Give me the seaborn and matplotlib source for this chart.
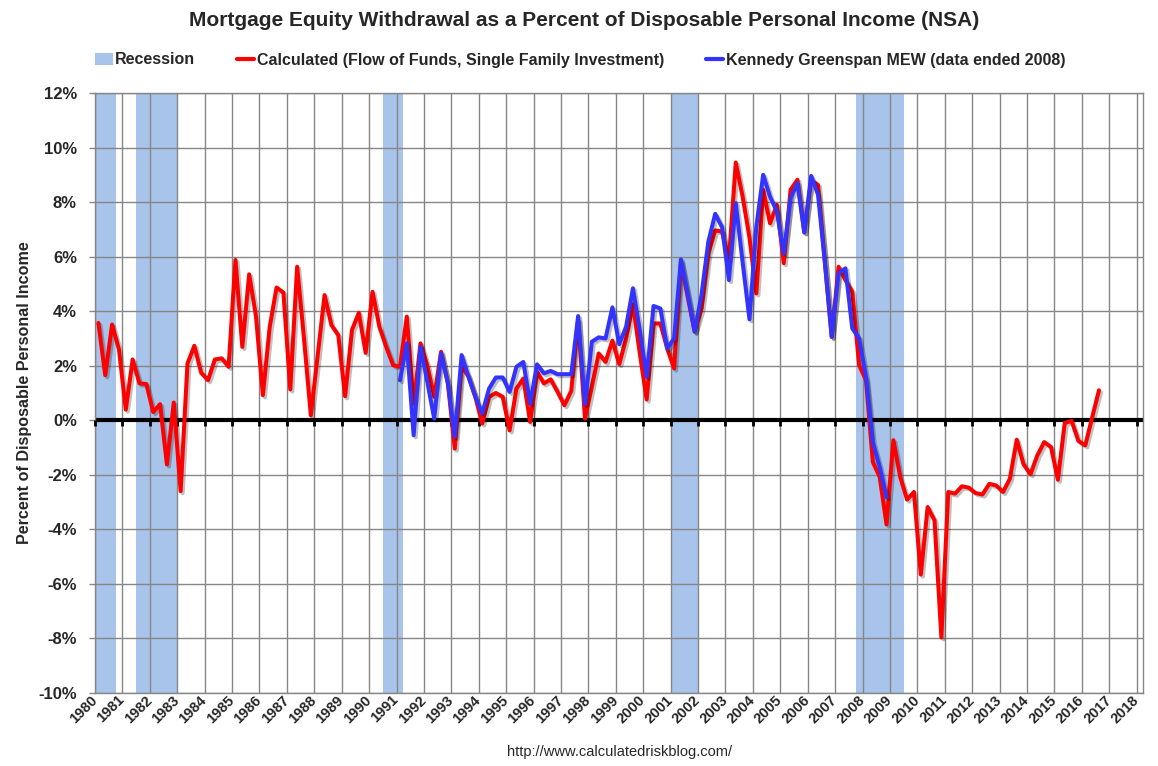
import numpy as np
import pandas as pd
import matplotlib
matplotlib.use("Agg")
import matplotlib.pyplot as plt
import matplotlib.patheffects as pe
import matplotlib.transforms as mtransforms
from matplotlib.patches import Patch
from matplotlib.lines import Line2D
import seaborn as sns

# Calculated MEW (Flow of Funds), quarterly from 1980 Q1, percent of DPI
calc_mew = [
    3.57, 1.65, 3.51, 2.60,    # 1980
    0.39, 2.23, 1.35, 1.33,    # 1981
    0.30, 0.59, -1.62, 0.65,   # 1982
    -2.60, 2.08, 2.73, 1.74,   # 1983
    1.47, 2.23, 2.27, 1.96,    # 1984
    5.88, 2.69, 5.35, 3.80,    # 1985
    0.92, 3.43, 4.87, 4.68,    # 1986
    1.13, 5.63, 3.00, 0.18,    # 1987
    2.40, 4.59, 3.49, 3.12,    # 1988
    0.88, 3.31, 3.94, 2.47,    # 1989
    4.71, 3.43, 2.69, 2.02,    # 1990
    1.96, 3.80, 0.60, 2.82,    # 1991
    2.00, 0.86, 2.51, 1.35,    # 1992
    -1.04, 2.00, 1.60, 0.86,   # 1993
    -0.12, 0.86, 1.00, 0.86,   # 1994
    -0.37, 1.16, 1.53, -0.06,  # 1995
    1.78, 1.35, 1.50, 1.04,    # 1996
    0.55, 1.08, 3.68, 0.06,    # 1997
    1.23, 2.45, 2.14, 2.92,    # 1998
    2.06, 3.00, 4.26, 2.45,    # 1999
    0.76, 3.55, 3.55, 2.63,    # 2000
    1.90, 5.82, 4.50, 3.25,    # 2001
    4.10, 6.12, 6.96, 6.92,    # 2002
    5.88, 9.45, 8.20, 6.70,    # 2003
    4.65, 8.45, 7.22, 7.90,    # 2004
    5.76, 8.45, 8.82, 6.90,    # 2005
    8.80, 8.63, 5.80, 3.06,    # 2006
    5.63, 5.14, 4.71, 2.02,    # 2007
    1.47, -1.53, -2.08, -3.82, # 2008
    -0.73, -2.08, -2.91, -2.63, # 2009
    -5.66, -3.18, -3.67, -7.96, # 2010
    -2.63, -2.69, -2.42, -2.47, # 2011
    -2.67, -2.72, -2.33, -2.39, # 2012
    -2.63, -2.14, -0.71, -1.62, # 2013
    -1.98, -1.29, -0.80, -0.98, # 2014
    -2.18, -0.10, -0.02, -0.76, # 2015
    -0.92, 0.10, 1.10,          # 2016
]
calc_start = 1980

# Kennedy Greenspan MEW, quarterly from 1991 Q1 to 2008 Q4
kg_mew = [
    1.47, 2.82, -0.55, 2.70,   # 1991
    1.40, 0.06, 2.45, 1.35,    # 1992
    -0.60, 2.39, 1.60, 0.86,   # 1993
    0.25, 1.16, 1.57, 1.57,    # 1994
    1.04, 1.96, 2.14, 0.61,    # 1995
    2.05, 1.72, 1.81, 1.69,    # 1996
    1.69, 1.69, 3.82, 0.59,    # 1997
    2.88, 3.04, 3.00, 4.14,    # 1998
    2.79, 3.43, 4.84, 3.30,    # 1999
    1.59, 4.19, 4.10, 2.63,    # 2000
    3.00, 5.90, 4.60, 3.25,    # 2001
    4.60, 6.55, 7.57, 7.08,    # 2002
    5.14, 7.96, 5.80, 3.70,    # 2003
    7.10, 9.00, 8.20, 7.65,    # 2004
    6.12, 8.14, 8.70, 6.88,    # 2005
    8.96, 8.27, 5.80, 3.06,    # 2006
    5.39, 5.57, 3.37, 3.00,    # 2007
    1.60, -0.80, -1.71, -2.82, # 2008
]
kg_start = 1991

# NBER recessions (start, end) in fractional years
recessions = [(1980.0, 1980.75), (1981.5, 1983.0), (1990.5, 1991.25),
              (2001.0, 2002.0), (2007.75, 2009.5)]

years = list(range(1980, 2019))
y_ticks = list(range(-10, 13, 2))

calc_name = "Calculated (Flow of Funds, Single Family Investment)"
kg_name = "Kennedy Greenspan MEW (data ended 2008)"
red = "#FF0000"
blue = "#3333FF"
rec_color = "#A9C4EA"
grid_color = "#868686"


def quarter_dates(start_year, n):
    # mid-quarter positions on a year scale
    return [start_year + 0.125 + 0.25 * i for i in range(n)]


df = pd.concat([
    pd.DataFrame({"date": quarter_dates(calc_start, len(calc_mew)),
                  "value": calc_mew, "series": calc_name}),
    pd.DataFrame({"date": quarter_dates(kg_start, len(kg_mew)),
                  "value": kg_mew, "series": kg_name}),
])

sns.set_style("white")
plt.rcParams["font.family"] = ["Liberation Sans", "DejaVu Sans"]

fig = plt.figure(figsize=(11.58, 7.66), dpi=100)
ax = fig.add_axes([0.082, 0.0953, 0.9048, 0.7833])

for start, end in recessions:
    ax.axvspan(start, end, color=rec_color, lw=0, zorder=0.2)

shadow = [pe.SimpleLineShadow(offset=(1.5, -1.5), shadow_color="black", alpha=0.25), pe.Normal()]
sns.lineplot(data=df, x="date", y="value", hue="series", hue_order=[calc_name, kg_name],
             palette=[red, blue], linewidth=2.9, estimator=None, sort=False,
             legend=False, ax=ax, path_effects=shadow, zorder=3)

ax.set_xlim(1980, 2018.22)
ax.set_ylim(-10, 12)
ax.set_axisbelow(True)
ax.grid(True, color=grid_color, lw=1)
for s in ax.spines.values():
    s.set_color(grid_color)
    s.set_linewidth(1)

ax.set_xticks(years)
ax.set_xticklabels([str(y) for y in years], rotation=45, ha="right", va="center",
                   rotation_mode="anchor", fontsize=10.5, fontweight="bold")
offset = mtransforms.ScaledTranslation(6 / 72, -4 / 72, fig.dpi_scale_trans)
for lbl in ax.get_xticklabels():
    lbl.set_transform(lbl.get_transform() + offset)
ax.set_yticks(y_ticks)
ax.set_yticklabels([f"{v}%" for v in y_ticks], fontsize=12, fontweight="bold")
ax.tick_params(axis="x", length=0)
ax.tick_params(axis="y", length=4, width=1, color=grid_color, direction="out", pad=9, left=True)
ax.set_xlabel("")
ax.set_ylabel("")
fig.text(25 / 1158, 1 - 393 / 766, "Percent of Disposable Personal Income",
         rotation=90, ha="center", va="center", fontsize=11.6, fontweight="bold")

# zero axis line with year tick marks
ax.axhline(0, color="black", lw=3, zorder=2.5)
zero_pos = (0 - (-10)) / (12 - (-10))
zax = ax.secondary_xaxis(zero_pos)
zax.set_zorder(2.6)
zax.set_xticks(years)
zax.set_xticklabels([])
zax.tick_params(length=4, width=2, color="black", direction="out")
for s in zax.spines.values():
    s.set_visible(False)

fig.text(0.5043, 1 - 21 / 766,
         "Mortgage Equity Withdrawal as a Percent of Disposable Personal Income (NSA)",
         ha="center", va="center", fontsize=15, fontweight="bold")

handles = [Patch(facecolor=rec_color, edgecolor="none"),
           Line2D([], [], color=red, lw=3),
           Line2D([], [], color=blue, lw=3)]
fig.legend(handles, ["Recession", calc_name, kg_name], loc="center",
           bbox_to_anchor=(0.501, 1 - 60 / 766), ncol=3, frameon=False,
           handlelength=1.1, handletextpad=0.15, columnspacing=2.6,
           prop={"size": 11.5, "weight": "bold"})

fig.text(620 / 1158, 1 - 752 / 766, "http://www.calculatedriskblog.com/",
         ha="center", va="center", fontsize=10.5)

fig.savefig("out.png", dpi=100)
